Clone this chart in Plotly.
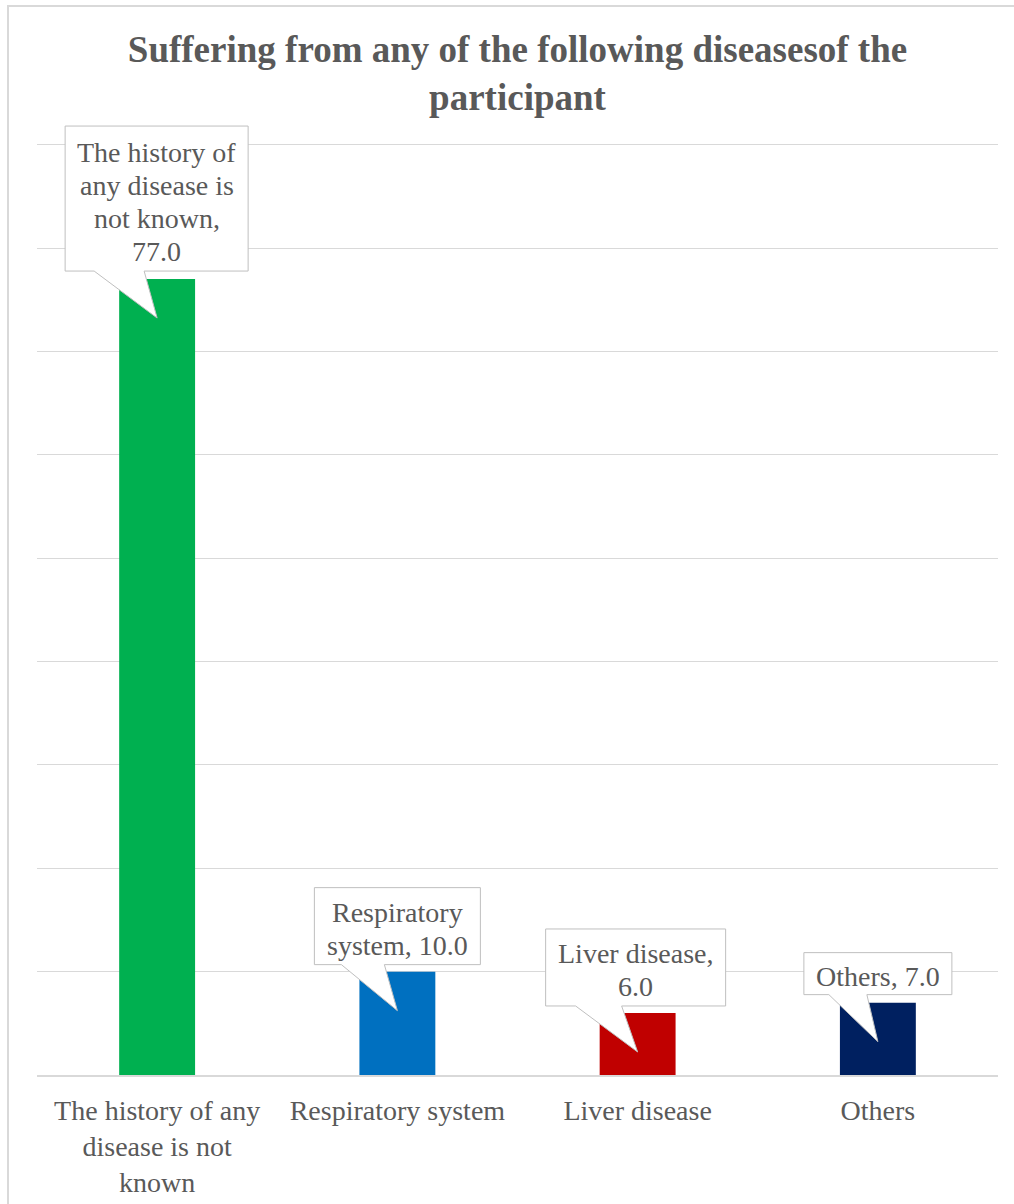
import textwrap
import plotly.graph_objects as go

# Chart data
categories = [
    "The history of any disease is not known",
    "Respiratory system",
    "Liver disease",
    "Others",
]
values = [77.0, 10.0, 6.0, 7.0]

bar_colors = ["#00B050", "#0070C0", "#C00000", "#002060"]
TEXT_GRAY = "#595959"
GRID_GRAY = "#D9D9D9"
FONT = "Times New Roman, Liberation Serif, DejaVu Serif, serif"
LABEL_SIZE = 28
LINE_STEP = 33          # line pitch of the callout text, px
CALLOUT_WRAP = 14       # characters per callout line
TICK_WRAP = 18          # characters per category label line

W, H = 1014, 1204
Y_MAX = 92.0
M_L, M_R, M_T, M_B = 37, 16, 124, 129

# Callout box geometry in pixels relative to the top of each bar:
# (left, right, top, bottom, pointer base left, pointer base right)
callout_geom = [
    (-92, 91, 153, 8, -63, -13),
    (-83, 83, 84, 7, -56, -13),
    (-92, 88, 84, 7, -62, -16),
    (-74, 74, 50, 8, -49, -11),
]
TIP_DROP = -39

x_idx = list(range(len(categories)))
tick_text = ["<br>".join(textwrap.wrap(c, TICK_WRAP)) for c in categories]

fig = go.Figure(
    go.Bar(
        x=x_idx,
        y=values,
        marker=dict(color=bar_colors, line=dict(width=0)),
        width=0.316,
        hoverinfo="skip",
    )
)

shapes = []
annotations = []
for i, (name, v) in enumerate(zip(categories, values)):
    l, r, t, b, bl, br = callout_geom[i]
    path = (
        f"M{l},{t} L{r},{t} L{r},{b} L{br},{b} L0,{TIP_DROP} "
        f"L{bl},{b} L{l},{b} Z"
    )
    shapes.append(
        dict(
            type="path",
            xref="x",
            yref="y",
            xsizemode="pixel",
            ysizemode="pixel",
            xanchor=i,
            yanchor=v,
            path=path,
            fillcolor="white",
            line=dict(color="#BFBFBF", width=1),
            layer="above",
        )
    )
    lines = textwrap.wrap(f"{name}, {v:.1f}", CALLOUT_WRAP)
    center = (t + b) / 2 - 3
    n = len(lines)
    for k, line in enumerate(lines):
        annotations.append(
            dict(
                x=i,
                y=v,
                xref="x",
                yref="y",
                xshift=(l + r) / 2,
                yshift=center + ((n - 1) / 2 - k) * LINE_STEP,
                xanchor="center",
                yanchor="middle",
                text=line,
                showarrow=False,
                font=dict(family=FONT, size=LABEL_SIZE, color=TEXT_GRAY),
            )
        )

# Outer chart border (left and top edges)
px_x = lambda p: (p - M_L) / (W - M_L - M_R)
px_y = lambda p: (H - M_B - p) / (H - M_T - M_B)
shapes.append(
    dict(type="line", xref="paper", yref="paper",
         x0=px_x(8), x1=px_x(8), y0=px_y(6), y1=px_y(H + 5),
         line=dict(color=GRID_GRAY, width=2))
)
shapes.append(
    dict(type="line", xref="paper", yref="paper",
         x0=px_x(7), x1=px_x(W + 5), y0=px_y(6), y1=px_y(6),
         line=dict(color=GRID_GRAY, width=2))
)

fig.update_layout(
    width=W,
    height=H,
    margin=dict(l=M_L, r=M_R, t=M_T, b=M_B),
    paper_bgcolor="white",
    plot_bgcolor="white",
    showlegend=False,
    font=dict(family=FONT, color=TEXT_GRAY),
    title=dict(
        text="<b>Suffering from any of the following diseasesof the<br>participant</b>",
        x=0.5,
        xref="paper",
        xanchor="center",
        y=1 - 62 / H,
        yref="container",
        yanchor="middle",
        automargin=False,
        font=dict(family=FONT, size=37, color=TEXT_GRAY),
    ),
    xaxis=dict(
        range=[-0.5, 3.5],
        tickmode="array",
        tickvals=x_idx,
        ticktext=tick_text,
        ticks="",
        ticklabelstandoff=9,
        automargin=False,
        showgrid=False,
        showline=True,
        linecolor=GRID_GRAY,
        linewidth=2,
        tickfont=dict(family=FONT, size=LABEL_SIZE, color=TEXT_GRAY),
        zeroline=False,
        fixedrange=True,
    ),
    yaxis=dict(
        range=[0, Y_MAX],
        tickmode="linear",
        tick0=0,
        dtick=10,
        showticklabels=False,
        ticks="",
        automargin=False,
        showgrid=True,
        gridcolor=GRID_GRAY,
        gridwidth=1,
        zeroline=False,
        showline=False,
        fixedrange=True,
    ),
    shapes=shapes,
    annotations=annotations,
)

fig.write_html("out.html", config={"displayModeBar": False})
